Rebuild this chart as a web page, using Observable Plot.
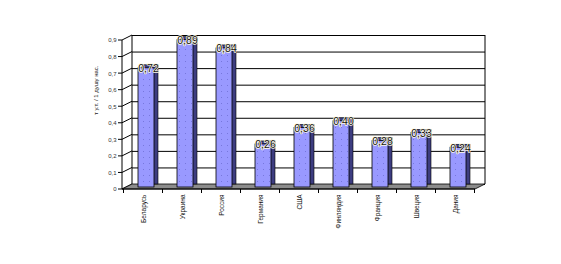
<!DOCTYPE html>
<html>
<head>
<meta charset="utf-8">
<script src="https://cdn.jsdelivr.net/npm/d3@7"></script>
<script src="https://cdn.jsdelivr.net/npm/@observablehq/plot@0.6"></script>
<style>
  html, body { margin: 0; padding: 0; background: #fff; }
  svg { display: block; }
</style>
</head>
<body>
<div id="chart"></div>
<script>
const countries = ["Беларусь", "Украина", "Россия", "Германия", "США", "Финляндия", "Франция", "Швеция", "Дания"];
const values = [0.72, 0.89, 0.84, 0.26, 0.36, 0.40, 0.28, 0.33, 0.24];
const yTicks = [0, 0.1, 0.2, 0.3, 0.4, 0.5, 0.6, 0.7, 0.8, 0.9];
const yLabel = "т у.т. / 1 душу нас.";

const data = countries.map((c, i) => ({country: c, value: values[i]}));
const fmt = d => d === 0 ? "0" : d.toFixed(1).replace(".", ",");
const fmtVal = d => d.toFixed(2).replace(".", ",");

const DX = 10, DY = -5; // depth of the 3-D box

function defsMark() {
  const g = d3.create("svg:g");
  const p = g.append("defs").append("pattern")
    .attr("id", "dots").attr("width", 6).attr("height", 6)
    .attr("patternUnits", "userSpaceOnUse");
  p.append("rect").attr("width", 6).attr("height", 6).attr("fill", "#9999ff");
  p.append("rect").attr("x", 2).attr("y", 3).attr("width", 1).attr("height", 1).attr("fill", "#7777dd");
  return g.node();
}

function wallMark(index, scales, values, dim) {
  const g = d3.create("svg:g").attr("fill", "none").attr("stroke", "#000");
  const x0 = dim.marginLeft, x1 = dim.width - dim.marginRight;
  const y = scales.y;
  const y0 = y(0), yTop = y(yTicks[yTicks.length - 1]);
  g.append("line").attr("x1", x0 + DX).attr("x2", x0 + DX).attr("y1", y0 + DY).attr("y2", yTop + DY);
  g.append("line").attr("x1", x1 + DX).attr("x2", x1 + DX).attr("y1", y0 + DY).attr("y2", yTop + DY);
  for (const t of yTicks) {
    g.append("line").attr("x1", x0).attr("y1", y(t)).attr("x2", x0 + DX).attr("y2", y(t) + DY);
  }
  return g.node();
}

function floorMark(index, scales, values, dim) {
  const g = d3.create("svg:g");
  const x0 = dim.marginLeft, x1 = dim.width - dim.marginRight;
  const y0 = scales.y(0);
  g.append("path")
    .attr("d", `M${x0},${y0}L${x1},${y0}L${x1 + DX},${y0 + DY}L${x0 + DX},${y0 + DY}Z`)
    .attr("fill", "#8c8c8c").attr("stroke", "#000").attr("stroke-width", 0.8);
  return g.node();
}

function frontAxisMark(index, scales, values, dim) {
  const g = d3.create("svg:g").attr("stroke", "#000");
  const x0 = dim.marginLeft, x1 = dim.width - dim.marginRight;
  const y = scales.y;
  g.append("line").attr("x1", x0).attr("x2", x0).attr("y1", y(0)).attr("y2", y(yTicks[yTicks.length - 1]));
  g.append("line").attr("x1", x0).attr("x2", x1).attr("y1", y(0)).attr("y2", y(0));
  for (const t of yTicks) {
    g.append("line").attr("x1", x0 - 4).attr("x2", x0).attr("y1", y(t)).attr("y2", y(t));
  }
  const xs = scales.x;
  const bw = xs.bandwidth ? xs.bandwidth() : 0;
  const step = xs(countries[1]) - xs(countries[0]);
  const bounds = countries.map(c => xs(c) + bw / 2 - step / 2);
  bounds.push(xs(countries[countries.length - 1]) + bw / 2 + step / 2);
  for (const b of bounds) {
    g.append("line").attr("x1", b).attr("x2", b).attr("y1", y(0)).attr("y2", y(0) + 4);
  }
  return g.node();
}

const chart = Plot.plot({
  width: 561,
  height: 264,
  marginLeft: 122,
  marginRight: 86,
  marginTop: 40,
  marginBottom: 75,
  style: {fontFamily: "Liberation Sans, Arial, sans-serif", background: "#fff"},
  x: {domain: countries, paddingInner: 0.59, paddingOuter: 0.295, axis: null},
  y: {domain: [0, 0.9], axis: null},
  marks: [
    defsMark,
    Plot.ruleY(yTicks, {dx: DX, dy: DY, stroke: "#000", strokeWidth: 1}),
    wallMark,
    floorMark,
    Plot.barY(data, {x: "country", y: "value", dx: 7, dy: -5, fill: "#3d3d80", stroke: "#000", strokeWidth: 0.6}),
    Plot.barY(data, {x: "country", y: "value", dx: 3, dy: -2, fill: "url(#dots)", stroke: "#000", strokeWidth: 0.8}),
    frontAxisMark,
    Plot.axisY(yTicks, {tickSize: 0, tickPadding: 6, fontSize: 6, tickFormat: fmt, fill: "#333", label: null}),
    Plot.axisX({tickSize: 0, tickRotate: -90, tickPadding: 5, fontSize: 6.5, fill: "#111", label: null}),
    Plot.text([yLabel], {frameAnchor: "left", rotate: -90, dx: -26, fontSize: 6, fill: "#222"}),
    Plot.text(data, {x: "country", y: "value", text: d => fmtVal(d.value), dx: 5, dy: 2,
      lineAnchor: "bottom", fontSize: 10.5, fill: "#111", stroke: "#fffbe6", strokeWidth: 1.5})
  ]
});
document.getElementById("chart").append(chart);
</script>
</body>
</html>
